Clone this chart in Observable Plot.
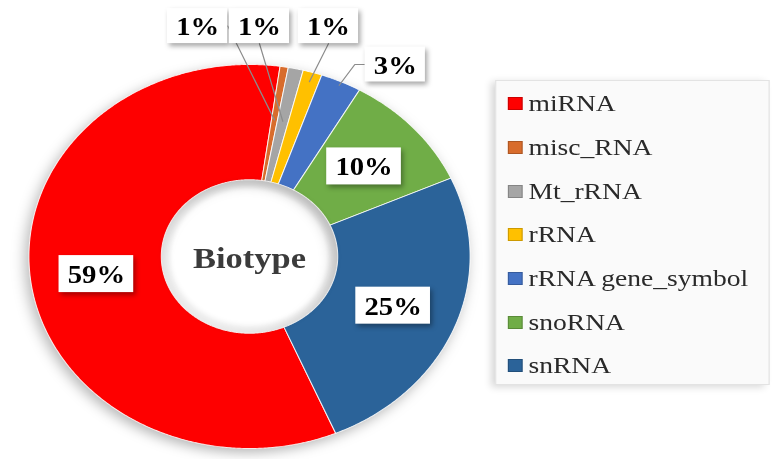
<!DOCTYPE html>
<html><head><meta charset="utf-8">
<script src="https://cdn.jsdelivr.net/npm/d3@7"></script>
<script src="https://cdn.jsdelivr.net/npm/@observablehq/plot@0.6"></script>
<style>
html,body{margin:0;padding:0;background:#fff;overflow:hidden}
#wrap{position:relative;width:672px;height:459px;transform:scaleX(1.14881);transform-origin:0 0}
#wrap svg{position:absolute;left:0;top:0;background:transparent}
#legend{position:absolute;left:431px;top:80px;width:239px;height:305px;box-sizing:border-box;background:#fafafa;border:1px solid #e3e3e3;box-shadow:-4px 2px 7px rgba(0,0,0,0.16);padding-top:1px;font-family:"Liberation Serif","Times New Roman",serif;font-size:24px;color:#2a2a2a}
#legend .item{height:43.7px;display:flex;align-items:center;padding-left:10px;white-space:nowrap}
#legend .sw{width:13px;height:13px;margin-right:5px;flex:none;box-shadow:inset 0 0 0 1px rgba(0,0,0,0.2)}
</style></head><body><div id="wrap"></div>
<script>
// ---- data ----
const categories = ["miRNA","misc_RNA","Mt_rRNA","rRNA","rRNA gene_symbol","snoRNA","snRNA"];
const shares = [58.6, 0.6, 1.1, 1.4, 3.0, 10.0, 25.3];
const colors = ["#FE0000","#D86C2C","#A5A5A5","#FFC000","#4472C4","#70AD47","#2B6399"];
const centerLabel = "Biotype";

// ---- layout ----
const firstSliceAngle = 157;       // degrees, clockwise from 12 o'clock
const innerRatio = 0.4;
const labelRadius = 0.7;
const cxPx = 216.7, cyPx = 256, rPx = 192;
const fontSize = 25;
// pulled-out labels (chart units) with leader lines
const callouts = [
  {name:"misc_RNA", x:-0.235, y:1.2, from:"right", r:0.72},
  {name:"Mt_rRNA", x:0.045, y:1.2, from:"bottom", r:0.72},
  {name:"rRNA", x:0.358, y:1.2, from:"bottom", r:0.95},
  {name:"rRNA gene_symbol", x:0.661, y:1.0, from:"left", r:0.98}
];

const data = categories.map((name,i)=>({name, value: shares[i], label: Math.round(shares[i]) + "%"}));
const a0 = firstSliceAngle*Math.PI/180;
const arcs = d3.pie().sort(null).value(d=>d.value).startAngle(a0).endAngle(a0+2*Math.PI)(data);
const pt = (a,r)=>[r*Math.sin(a), r*Math.cos(a)];

const ring = arcs.flatMap(a=>{
  const n = Math.max(2, Math.ceil((a.endAngle-a.startAngle)/(Math.PI/360)));
  const ts = d3.range(n+1).map(k=>a.startAngle+(a.endAngle-a.startAngle)*k/n);
  const pts = [...ts.map(t=>pt(t,1)), ...ts.slice().reverse().map(t=>pt(t,innerRatio))];
  pts.push(pts[0]);
  return pts.map(([x,y])=>({name:a.data.name, x, y}));
});

const labels = arcs.map(a=>{
  const mid = (a.startAngle+a.endAngle)/2;
  const c = callouts.find(d=>d.name===a.data.name);
  const digits = a.data.label.length-1;
  const wPx = (digits*0.5+1)*fontSize + 15;
  const hPx = c ? 35 : 37;
  const [x,y] = c ? [c.x,c.y] : pt(mid,labelRadius);
  return {name:a.data.name, label:a.data.label, x, y, hw:wPx/2/rPx, hh:hPx/2/rPx, mid, c};
});

const leaders = labels.filter(d=>d.c).flatMap(d=>{
  const end = pt(d.mid, d.c.r);
  let pts;
  if (d.c.from==="bottom") pts = [[d.x, d.y-d.hh], end];
  else if (d.c.from==="right") pts = [[d.x+d.hw, d.y], end];
  else pts = [[d.x-d.hw, d.y], [d.x-d.hw-9/rPx, d.y], end];
  return pts.map(([x,y])=>({name:d.name, x, y}));
});

const chart = Plot.plot({
  width: 672, height: 459,
  x: {domain:[-1,1], range:[cxPx-rPx, cxPx+rPx], axis:null},
  y: {domain:[-1,1], range:[cyPx+rPx, cyPx-rPx], axis:null},
  color: {domain: categories, range: colors},
  style: {background:"transparent"},
  marks: [
    Plot.line(ring, {x:"x", y:"y", z:"name", fill:"name", stroke:"#ffffff", strokeWidth:0.9, strokeOpacity:0.85}),
    Plot.dot([centerLabel], {x:()=>0, y:()=>0, r:innerRatio*rPx-4, fill:"none", stroke:"#000", strokeOpacity:0.06, strokeWidth:8}),
    Plot.line(leaders, {x:"x", y:"y", z:"name", stroke:"#8c8c8c", strokeWidth:1.1}),
    Plot.rect(labels, {x1:d=>d.x-d.hw, x2:d=>d.x+d.hw, y1:d=>d.y-d.hh, y2:d=>d.y+d.hh, fill:"#ffffff"}),
    Plot.text(labels, {x:"x", y:"y", text:"label", fontSize, fontWeight:"bold", fontFamily:"Liberation Serif, Times New Roman, serif", fill:"#000", dy:1}),
    Plot.text([centerLabel], {x:()=>0, y:()=>0, text:d=>d, fontSize:30, fontWeight:"bold", fontFamily:"Liberation Serif, Times New Roman, serif", fill:"#3b3b3b", dy:2})
  ]
});
const groups = chart.querySelectorAll(":scope > g");
if (groups[0]) groups[0].style.filter = "drop-shadow(-3px 4px 6px rgba(0,0,0,0.28))";
if (groups[1]) groups[1].style.filter = "blur(2px)";
if (groups[3]) groups[3].style.filter = "drop-shadow(2px 3px 2.5px rgba(0,0,0,0.35))";
document.getElementById("wrap").appendChild(chart);

const lg = d3.select("#wrap").append("div").attr("id","legend");
const item = lg.selectAll("div").data(categories).join("div").attr("class","item");
item.append("span").attr("class","sw").style("background",(d,i)=>colors[i]);
item.append("span").text(d=>d);
</script></body></html>
